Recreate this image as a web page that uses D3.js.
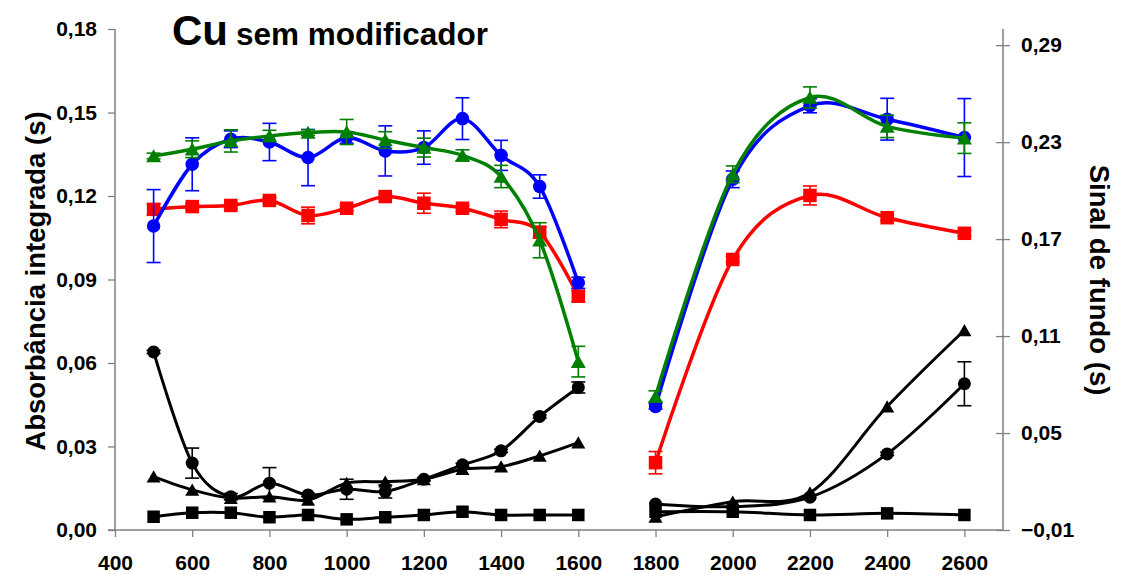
<!DOCTYPE html>
<html>
<head>
<meta charset="utf-8">
<script src="https://cdn.jsdelivr.net/npm/d3@7"></script>
<style>
  body { margin: 0; background: #fff; }
  svg { display: block; }
  text { font-family: "Liberation Sans", Arial, sans-serif; font-weight: bold; fill: #000; }
</style>
</head>
<body>
<svg id="chart" width="1123" height="575"></svg>
<script>
// Pyrolysis temperatures (°C); the curves break between 1600 and 1800
const temps = [500, 600, 700, 800, 900, 1000, 1100, 1200, 1300, 1400, 1500, 1600, 1800, 2000, 2200, 2400, 2600];
const breakAt = 1700;

// Integrated absorbance (s) – left axis
const absRed   = [0.1152, 0.1162, 0.1166, 0.1184, 0.1130, 0.1156, 0.1198, 0.1174, 0.1156, 0.1116, 0.1070, 0.0840, 0.0242, 0.0972, 0.1202, 0.1122, 0.1066];
const errRed   = [0.002, 0.001, 0.001, 0.001, 0.003, 0.001, 0.001, 0.0036, 0.001, 0.003, 0.002, 0.002, 0.004, 0.001, 0.0034, 0.001, 0.001];
const absBlue  = [0.1092, 0.1314, 0.1404, 0.1394, 0.1338, 0.1410, 0.1362, 0.1374, 0.1478, 0.1346, 0.1234, 0.0888, 0.0444, 0.1260, 0.1524, 0.1476, 0.1410];
const errBlue  = [0.0131, 0.0095, 0.003, 0.0067, 0.0101, 0.002, 0.009, 0.006, 0.0075, 0.0054, 0.0042, 0.002, 0.001, 0.003, 0.0025, 0.0075, 0.014];
const absGreen = [0.1344, 0.1368, 0.1398, 0.1416, 0.1428, 0.1430, 0.1401, 0.1374, 0.1346, 0.1270, 0.1041, 0.0605, 0.0480, 0.1278, 0.1554, 0.1450, 0.1408];
const errGreen = [0.001, 0.003, 0.004, 0.002, 0.001, 0.0045, 0.003, 0.0034, 0.002, 0.004, 0.0063, 0.0055, 0.002, 0.003, 0.0038, 0.004, 0.0055];

// Background signal (s) – right axis
const bgSquare   = [-0.0018, 0.0007, 0.0007, -0.0021, -0.0007, -0.0034, -0.0021, -0.0007, 0.0013, -0.0007, -0.0007, -0.0007, 0.0013, 0.0013, -0.0007, 0.0003, -0.0007];
const bgCircle   = [0.1002, 0.0314, 0.0106, 0.0190, 0.0117, 0.0152, 0.0138, 0.0214, 0.0303, 0.0390, 0.0603, 0.0782, 0.0061, 0.0045, 0.0103, 0.0371, 0.0805];
const errCircle  = [0.001, 0.0093, 0.002, 0.0096, 0.001, 0.0062, 0.004, 0.001, 0.001, 0.001, 0.001, 0.0034, 0, 0, 0, 0.001, 0.0136];
const bgTriangle = [0.0230, 0.0148, 0.0097, 0.0106, 0.0086, 0.0190, 0.0199, 0.0214, 0.0276, 0.0292, 0.0359, 0.0441, -0.0018, 0.0075, 0.0131, 0.0664, 0.1136];

// Axis ticks
const xTicks = [400, 600, 800, 1000, 1200, 1400, 1600, 1800, 2000, 2200, 2400, 2600];
const yLeftTicks = [0, 0.03, 0.06, 0.09, 0.12, 0.15, 0.18];
const yRightTicks = [-0.01, 0.05, 0.11, 0.17, 0.23, 0.29];

const svg = d3.select("#chart");

const x = d3.scaleLinear().domain([400, 2700]).range([115, 1003]);
const yL = d3.scaleLinear().domain([0, 0.18]).range([530, 29]);
const yR = d3.scaleLinear().domain([-0.01, 0.30]).range([530, 29]);

const comma = d => d3.format(".2f")(d).replace(".", ",");
const axisColor = "#808080";

// Bottom axis
const gx = svg.append("g").attr("transform", "translate(0,530)")
  .call(d3.axisBottom(x).tickValues(xTicks).tickSize(7).tickPadding(6).tickFormat(d3.format("d")));
gx.select(".domain").remove();
gx.selectAll(".tick line").attr("stroke", axisColor).attr("stroke-width", 1.3);
gx.selectAll(".tick text").attr("font-size", 21).attr("dy", null).attr("y", 40);
svg.append("line").attr("x1", 108).attr("x2", x(2700)).attr("y1", 530).attr("y2", 530)
  .attr("stroke", axisColor).attr("stroke-width", 1.5);

// Left axis
const gl = svg.append("g").attr("transform", "translate(115,0)")
  .call(d3.axisLeft(yL).tickValues(yLeftTicks).tickSize(7).tickPadding(11).tickFormat(comma));
gl.select(".domain").attr("stroke", axisColor).attr("stroke-width", 1.5).attr("d", "M0,29V530");
gl.selectAll(".tick line").attr("stroke", axisColor).attr("stroke-width", 1.3);
gl.selectAll(".tick text").attr("font-size", 21);

// Right axis (ticks cross the line)
const gr = svg.append("g").attr("transform", `translate(${x(2700)},0)`)
  .call(d3.axisRight(yR).tickValues(yRightTicks).tickSize(7).tickPadding(11).tickFormat(comma));
gr.select(".domain").attr("stroke", axisColor).attr("stroke-width", 1.5).attr("d", "M0,29V530");
gr.selectAll(".tick line").attr("stroke", axisColor).attr("stroke-width", 1.3).attr("x1", -7);
gr.selectAll(".tick text").attr("font-size", 21);

// Axis titles
svg.append("text").attr("transform", "translate(45,281) rotate(-90)")
  .attr("text-anchor", "middle").attr("font-size", 27.5).text("Absorbância integrada (s)");
svg.append("text").attr("transform", "translate(1090,280) rotate(90)")
  .attr("text-anchor", "middle").attr("font-size", 27.5).text("Sinal de fundo (s)");

// Title
const title = svg.append("text").attr("x", 172).attr("y", 45);
title.append("tspan").attr("font-size", 42).text("Cu");
title.append("tspan").attr("font-size", 31.5).attr("dx", 8).text("sem modificador");

// Marker shapes
const markerPath = {
  circle: s => d3.symbol(d3.symbolCircle, Math.PI * (s / 2) ** 2)(),
  square: s => `M${-s/2},${-s/2}h${s}v${s}h${-s}Z`,
  triangle: s => `M0,${-s*0.45}L${s/2},${s*0.42}L${-s/2},${s*0.42}Z`
};

const series = [
  { vals: bgSquare,   errs: null,      color: "#000", marker: "square",   size: 12.5, y: yR, lw: 3 },
  { vals: bgCircle,   errs: errCircle, color: "#000", marker: "circle",   size: 13,   y: yR, lw: 3 },
  { vals: bgTriangle, errs: null,      color: "#000", marker: "triangle", size: 14,   y: yR, lw: 3 },
  { vals: absRed,     errs: errRed,    color: "#ff0000", marker: "square",   size: 13.5, y: yL, lw: 3.5 },
  { vals: absBlue,    errs: errBlue,   color: "#0000ff", marker: "circle",   size: 13.5, y: yL, lw: 3.5 },
  { vals: absGreen,   errs: errGreen,  color: "#008000", marker: "triangle", size: 15,   y: yL, lw: 3.5 }
];

const curve = d3.curveCardinal.tension(0);

series.forEach(s => {
  const pts = temps.map((t, i) => ({ t, v: s.vals[i], e: s.errs ? s.errs[i] : 0 }));
  const g = svg.append("g");
  const line = d3.line().x(d => x(d.t)).y(d => s.y(d.v)).curve(curve);
  [pts.filter(d => d.t < breakAt), pts.filter(d => d.t > breakAt)].forEach(seg => {
    g.append("path").attr("d", line(seg)).attr("fill", "none")
      .attr("stroke", s.color).attr("stroke-width", s.lw).attr("stroke-linejoin", "round");
  });
  // error bars
  const eb = g.selectAll(".err").data(pts.filter(d => d.e > 0)).join("g");
  eb.append("line").attr("x1", d => x(d.t)).attr("x2", d => x(d.t))
    .attr("y1", d => s.y(d.v - d.e)).attr("y2", d => s.y(d.v + d.e))
    .attr("stroke", s.color).attr("stroke-width", 1.6);
  [-1, 1].forEach(sign => {
    eb.append("line").attr("x1", d => x(d.t) - 7).attr("x2", d => x(d.t) + 7)
      .attr("y1", d => s.y(d.v + sign * d.e)).attr("y2", d => s.y(d.v + sign * d.e))
      .attr("stroke", s.color).attr("stroke-width", 1.6);
  });
  // markers
  g.selectAll(".mk").data(pts).join("path")
    .attr("transform", d => `translate(${x(d.t)},${s.y(d.v)})`)
    .attr("d", markerPath[s.marker](s.size))
    .attr("fill", s.color);
});
</script>
</body>
</html>
